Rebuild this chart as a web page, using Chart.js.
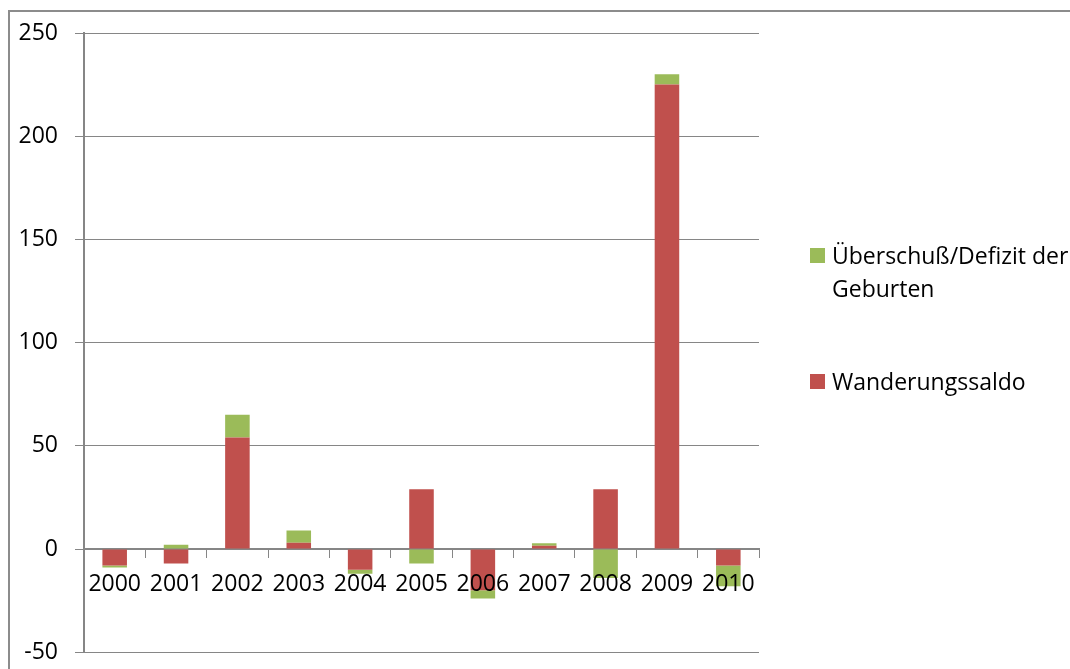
<!DOCTYPE html>
<html>
<head>
<meta charset="utf-8">
<script src="https://cdn.jsdelivr.net/npm/chart.js@4/dist/chart.umd.min.js"></script>
<style>
  html, body { margin: 0; padding: 0; background: #fff; }
  #wrap { position: relative; width: 1070px; height: 669px; overflow: hidden; font-family: "Open Sans", sans-serif; }
  #frame { position: absolute; left: 8px; top: 10px; width: 1100px; height: 720px; border: 2px solid #8c8c8c; box-sizing: border-box; }
  #c { position: absolute; left: 0; top: 0; }
  #legend { position: absolute; left: 810px; top: 239px; width: 262px; font-size: 23px; line-height: 33px; color: #000; white-space: normal; }
  .item { position: relative; padding-left: 22px; }
  .item + .item { margin-top: 60px; }
  .sw { position: absolute; left: 0; top: 9px; width: 15px; height: 15px; }
</style>
</head>
<body>
<div id="wrap">
  <div id="frame"></div>
  <canvas id="c" width="1070" height="683"></canvas>
  <div id="legend"></div>
</div>
<script>
// Jahre und Werte (Tausend Personen)
const years = ['2000', '2001', '2002', '2003', '2004', '2005', '2006', '2007', '2008', '2009', '2010'];
const wanderungssaldo = [-8, -7, 54, 3, -10, 29, -20, 1.6, 29, 225, -8];
const geburten = [-1, 2, 11, 6, -2, -7, -4, 1.2, -14, 5, -10];
const yMin = -50;
const yMax = 250;
const yStep = 50;

const seriesNames = ['Wanderungssaldo', 'Überschuß/Defizit der Geburten'];
const seriesColors = ['#C0504D', '#9BBB59'];

const FONT = { family: '"Open Sans", sans-serif', size: 23 };
const AXIS_GREY = '#868686';

const chart = new Chart(document.getElementById('c'), {
  type: 'bar',
  data: {
    labels: years,
    datasets: [
      { label: seriesNames[0], data: wanderungssaldo, backgroundColor: seriesColors[0] },
      { label: seriesNames[1], data: geburten, backgroundColor: seriesColors[1] }
    ]
  },
  options: {
    responsive: false,
    animation: false,
    layout: { padding: { left: 0, top: 33, right: 1070 - 759, bottom: 4 } },
    plugins: { legend: { display: false }, tooltip: { enabled: false } },
    datasets: { bar: { barPercentage: 0.4, categoryPercentage: 1 } },
    scales: {
      x: {
        stacked: true,
        position: { y: 0 },
        grid: { offset: true, drawOnChartArea: false, drawTicks: true, tickLength: 8, color: AXIS_GREY, lineWidth: 1 },
        border: { display: true, color: AXIS_GREY, width: 2 },
        ticks: { z: 1, color: '#000', font: FONT, padding: 14, maxRotation: 0, autoSkip: false },
        afterFit(scale) { scale.height = 0; }
      },
      y: {
        stacked: true,
        min: yMin,
        max: yMax,
        ticks: { stepSize: yStep, color: '#000', font: FONT, padding: 17 },
        grid: { color: AXIS_GREY, lineWidth: 1, tickLength: 9 },
        border: { display: true, color: AXIS_GREY, width: 2 },
        afterFit(scale) { scale.width = 84; }
      }
    }
  }
});

// Legende: Reihen in umgekehrter Reihenfolge wie im Stapel
const legend = document.getElementById('legend');
chart.data.datasets.slice().reverse().forEach(ds => {
  const item = document.createElement('div');
  item.className = 'item';
  const sw = document.createElement('span');
  sw.className = 'sw';
  sw.style.background = ds.backgroundColor;
  item.appendChild(sw);
  item.appendChild(document.createTextNode(ds.label));
  legend.appendChild(item);
});
</script>
</body>
</html>
